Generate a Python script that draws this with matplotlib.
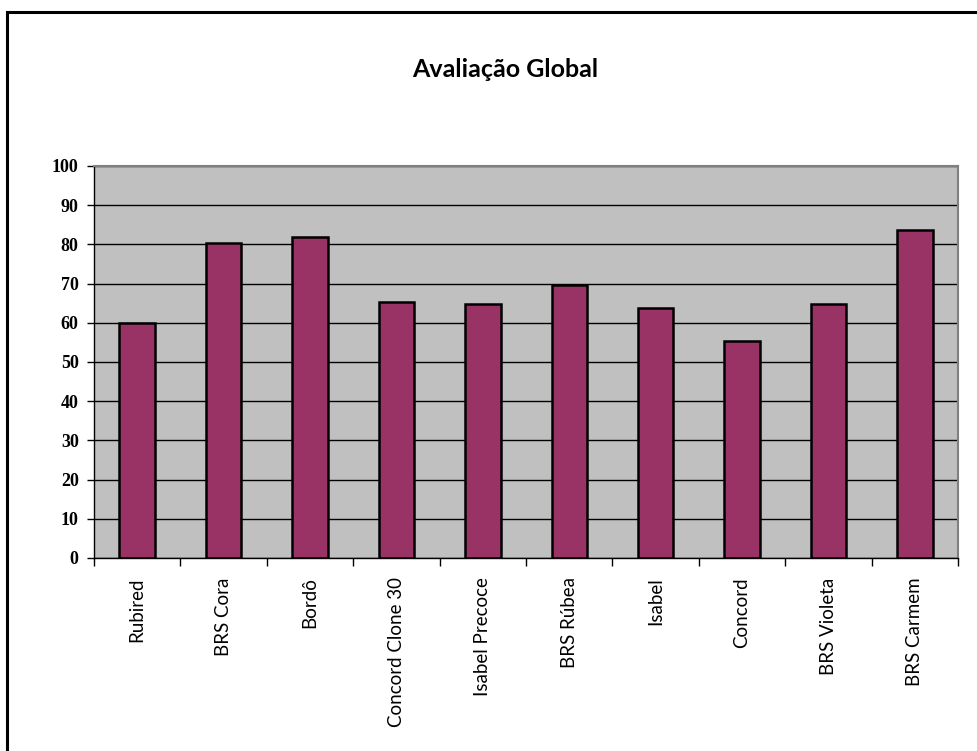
import numpy as np
import matplotlib.pyplot as plt
from matplotlib.patches import Rectangle

# data
cultivares = ['Rubired', 'BRS Cora', 'Bordô', 'Concord Clone 30', 'Isabel Precoce',
              'BRS Rúbea', 'Isabel', 'Concord', 'BRS Violeta', 'BRS Carmem']
avaliacao = [60.0, 80.3, 81.8, 65.3, 64.9, 69.6, 63.7, 55.4, 64.7, 83.7]
yticks = list(range(0, 101, 10))

plt.rcParams['font.family'] = ['Lato', 'DejaVu Sans']

fig = plt.figure(figsize=(9.77, 7.51), dpi=100)
fig.patch.set_facecolor('white')

# outer chart frame (only top and left visible, rest is cut off)
fig.patches.append(Rectangle((0.007, -0.1), 1.2, 1.084, transform=fig.transFigure,
                             fill=False, edgecolor='black', linewidth=2.2))

ax = fig.add_axes([0.0962, 0.257, 0.8844, 0.522])
ax.set_facecolor('#c0c0c0')

x = np.arange(len(cultivares))
ax.bar(x, avaliacao, width=0.41, color='#993366', edgecolor='black', linewidth=1.8, zorder=3)

ax.set_xlim(-0.5, len(cultivares) - 0.5)
ax.set_ylim(0, 100)
ax.set_yticks(yticks)
ax.set_yticklabels([str(v) for v in yticks], fontsize=13, fontweight='bold',
                   family=['Liberation Serif', 'DejaVu Serif'])
ax.yaxis.grid(True, color='black', linewidth=1.0, zorder=1)
ax.set_axisbelow(True)

# category labels centred, tick marks between categories
ax.set_xticks(x)
ax.set_xticklabels(cultivares, rotation=90, fontsize=13.5, va='top')
ax.tick_params(axis='x', length=0, pad=14)
ax.set_xticks(np.arange(-0.5, len(cultivares)), minor=True)
ax.tick_params(axis='x', which='minor', length=6, width=1, color='black')
ax.tick_params(axis='y', length=5, width=1, color='black', pad=6)

for s in ['top', 'right']:
    ax.spines[s].set_color('#808080')
    ax.spines[s].set_linewidth(1.5)
for s in ['left', 'bottom']:
    ax.spines[s].set_color('black')
    ax.spines[s].set_linewidth(1.0)

fig.text(0.517, 0.907, 'Avaliação Global', ha='center', va='center',
         fontsize=18, fontweight='bold')

fig.savefig('out.png', dpi=100)
